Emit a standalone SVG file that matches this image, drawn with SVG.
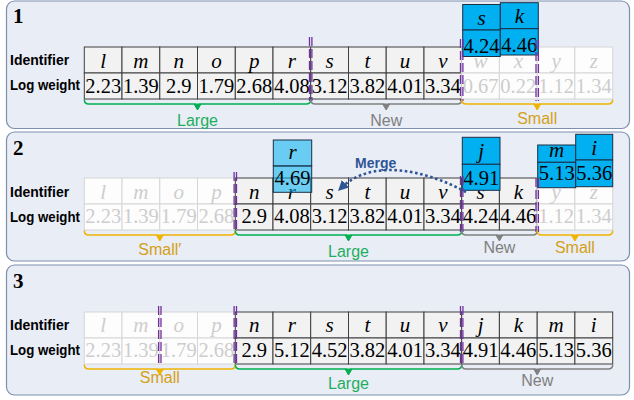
<svg xmlns="http://www.w3.org/2000/svg" width="634" height="400" viewBox="0 0 634 400">
<style>
.panel{fill:#e9edf6;stroke:#7f8fae;stroke-width:1.2}
.num{font-family:"Liberation Serif",serif;font-size:21px;font-weight:bold;fill:#000}
.rl{font-family:"Liberation Sans",sans-serif;font-size:14px;font-weight:bold;fill:#000}
.c{fill:#f2f2f2;stroke:#3f3f3f;stroke-width:1}
.f{fill:#fdfdfd;stroke:#d6d6d6;stroke-width:1}
.b{fill:#00b0f0;stroke:#1d2f45;stroke-width:1}
.lb{fill:#00b0f0;fill-opacity:.55;stroke:#1d2f45;stroke-width:1}
.id{font-family:"Liberation Serif",serif;font-style:italic;font-size:21px;text-anchor:middle;fill:#000}
.v{font-family:"Liberation Serif",serif;font-size:20.5px;text-anchor:middle;fill:#000}
.fd{fill:#cdcdcd}
.cut{stroke:#7030a0;stroke-width:1.3;stroke-dasharray:9 3;fill:none}
.brace{fill:none;stroke-width:1.5}
.lab{font-family:"Liberation Sans",sans-serif;font-size:16px;text-anchor:middle}
.green{stroke:#00b050;fill:#00b050}
.gray{stroke:#808080;fill:#808080}
.gold{stroke:#f0b400;fill:#f0b400}
.tgreen{fill:#1fae5e}
.tgray{fill:#7f7f7f}
.tgold{fill:#d4a017}
.merge{font-family:"Liberation Sans",sans-serif;font-size:14px;font-weight:bold;fill:#2f5597}
</style>
<defs>
<marker id="ah" viewBox="0 0 10 10" refX="6" refY="5" markerWidth="4" markerHeight="4" orient="auto">
<path d="M0,0 L10,5 L0,10 z" fill="#2f5597"/>
</marker>
</defs>

<!-- panel frames -->
<rect class="panel" x="6.5" y="1" width="623" height="127.5" rx="8"/>
<rect class="panel" x="6.5" y="132" width="623" height="129" rx="8"/>
<rect class="panel" x="6.5" y="265" width="623" height="130" rx="8"/>

<text class="num" x="13" y="23.3">1</text>
<text class="num" x="13" y="155">2</text>
<text class="num" x="13" y="288">3</text>

<text class="rl" x="10" y="65">Identifier</text>
<text class="rl" x="10" y="90" textLength="70" lengthAdjust="spacingAndGlyphs">Log weight</text>
<text class="rl" x="10" y="196.7">Identifier</text>
<text class="rl" x="10" y="221.7" textLength="70" lengthAdjust="spacingAndGlyphs">Log weight</text>
<text class="rl" x="10" y="330">Identifier</text>
<text class="rl" x="10" y="355" textLength="70" lengthAdjust="spacingAndGlyphs">Log weight</text>

<!-- step 1 table -->
<g id="step1">
<g id="p1-l" transform="translate(84.3,47)"><rect class="c" width="37.7" height="26"/><rect class="c" y="26" width="37.7" height="26"/><text class="id" x="18.9" y="20.5">l</text><text class="v" x="18.9" y="45.5">2.23</text></g>
<g id="p1-m" transform="translate(122,47)"><rect class="c" width="37.8" height="26"/><rect class="c" y="26" width="37.8" height="26"/><text class="id" x="18.9" y="20.5">m</text><text class="v" x="18.9" y="45.5">1.39</text></g>
<g id="p1-n" transform="translate(159.8,47)"><rect class="c" width="37.7" height="26"/><rect class="c" y="26" width="37.7" height="26"/><text class="id" x="18.9" y="20.5">n</text><text class="v" x="18.9" y="45.5">2.9</text></g>
<g id="p1-o" transform="translate(197.5,47)"><rect class="c" width="37.8" height="26"/><rect class="c" y="26" width="37.8" height="26"/><text class="id" x="18.9" y="20.5">o</text><text class="v" x="18.9" y="45.5">1.79</text></g>
<g id="p1-p" transform="translate(235.3,47)"><rect class="c" width="37.7" height="26"/><rect class="c" y="26" width="37.7" height="26"/><text class="id" x="18.9" y="20.5">p</text><text class="v" x="18.9" y="45.5">2.68</text></g>
<g id="p1-r" transform="translate(273,47)"><rect class="c" width="37.7" height="26"/><rect class="c" y="26" width="37.7" height="26"/><text class="id" x="18.9" y="20.5">r</text><text class="v" x="18.9" y="45.5">4.08</text></g>
<g id="p1-s" transform="translate(310.7,47)"><rect class="c" width="37.8" height="26"/><rect class="c" y="26" width="37.8" height="26"/><text class="id" x="18.9" y="20.5">s</text><text class="v" x="18.9" y="45.5">3.12</text></g>
<g id="p1-t" transform="translate(348.5,47)"><rect class="c" width="37.7" height="26"/><rect class="c" y="26" width="37.7" height="26"/><text class="id" x="18.9" y="20.5">t</text><text class="v" x="18.9" y="45.5">3.82</text></g>
<g id="p1-u" transform="translate(386.2,47)"><rect class="c" width="37.8" height="26"/><rect class="c" y="26" width="37.8" height="26"/><text class="id" x="18.9" y="20.5">u</text><text class="v" x="18.9" y="45.5">4.01</text></g>
<g id="p1-v" transform="translate(424,47)"><rect class="c" width="37.7" height="26"/><rect class="c" y="26" width="37.7" height="26"/><text class="id" x="18.9" y="20.5">v</text><text class="v" x="18.9" y="45.5">3.34</text></g>
<g id="p1-w" transform="translate(461.7,47)"><rect class="f" width="37.7" height="26"/><rect class="f" y="26" width="37.7" height="26"/><text class="id fd" x="18.9" y="20.5">w</text><text class="v fd" x="18.9" y="45.5">0.67</text></g>
<g id="p1-x" transform="translate(499.4,47)"><rect class="f" width="37.8" height="26"/><rect class="f" y="26" width="37.8" height="26"/><text class="id fd" x="18.9" y="20.5">x</text><text class="v fd" x="18.9" y="45.5">0.22</text></g>
<g id="p1-y" transform="translate(537.2,47)"><rect class="f" width="37.7" height="26"/><rect class="f" y="26" width="37.7" height="26"/><text class="id fd" x="18.9" y="20.5">y</text><text class="v fd" x="18.9" y="45.5">1.12</text></g>
<g id="p1-z" transform="translate(574.9,47)"><rect class="f" width="37.8" height="26"/><rect class="f" y="26" width="37.8" height="26"/><text class="id fd" x="18.9" y="20.5">z</text><text class="v fd" x="18.9" y="45.5">1.34</text></g>
<!-- incoming entries -->
<g id="p1-in-s" transform="translate(462.7,4.5)"><rect class="b" width="37.6" height="25.5"/><rect class="b" y="25.5" width="37.6" height="26.5"/><text class="id" x="18.8" y="20.5">s</text><text class="v" x="18.8" y="48.5">4.24</text></g>
<g id="p1-in-k" transform="translate(500.3,2.7)"><rect class="b" width="38" height="26"/><rect class="b" y="26" width="38" height="26.3"/><text class="id" x="19" y="20.3">k</text><text class="v" x="19" y="49">4.46</text></g>
</g>

<!-- step 2 table -->
<g id="step2">
<g id="p2-l" transform="translate(84.3,178)"><rect class="f" width="37.7" height="26"/><rect class="f" y="26" width="37.7" height="26"/><text class="id fd" x="18.9" y="20.5">l</text><text class="v fd" x="18.9" y="45">2.23</text></g>
<g id="p2-m" transform="translate(122,178)"><rect class="f" width="37.8" height="26"/><rect class="f" y="26" width="37.8" height="26"/><text class="id fd" x="18.9" y="20.5">m</text><text class="v fd" x="18.9" y="45">1.39</text></g>
<g id="p2-o" transform="translate(159.8,178)"><rect class="f" width="37.7" height="26"/><rect class="f" y="26" width="37.7" height="26"/><text class="id fd" x="18.9" y="20.5">o</text><text class="v fd" x="18.9" y="45">1.79</text></g>
<g id="p2-p" transform="translate(197.5,178)"><rect class="f" width="37.8" height="26"/><rect class="f" y="26" width="37.8" height="26"/><text class="id fd" x="18.9" y="20.5">p</text><text class="v fd" x="18.9" y="45">2.68</text></g>
<g id="p2-n" transform="translate(235.3,178)"><rect class="c" width="37.7" height="26"/><rect class="c" y="26" width="37.7" height="26"/><text class="id" x="18.9" y="20.5">n</text><text class="v" x="18.9" y="45">2.9</text></g>
<g id="p2-r" transform="translate(273,178)"><rect class="c" width="37.7" height="26"/><rect class="c" y="26" width="37.7" height="26"/><text class="id" x="18.9" y="20.5">r</text><text class="v" x="18.9" y="45">4.08</text></g>
<g id="p2-s" transform="translate(310.7,178)"><rect class="c" width="37.8" height="26"/><rect class="c" y="26" width="37.8" height="26"/><text class="id" x="18.9" y="20.5">s</text><text class="v" x="18.9" y="45">3.12</text></g>
<g id="p2-t" transform="translate(348.5,178)"><rect class="c" width="37.7" height="26"/><rect class="c" y="26" width="37.7" height="26"/><text class="id" x="18.9" y="20.5">t</text><text class="v" x="18.9" y="45">3.82</text></g>
<g id="p2-u" transform="translate(386.2,178)"><rect class="c" width="37.8" height="26"/><rect class="c" y="26" width="37.8" height="26"/><text class="id" x="18.9" y="20.5">u</text><text class="v" x="18.9" y="45">4.01</text></g>
<g id="p2-v" transform="translate(424,178)"><rect class="c" width="37.7" height="26"/><rect class="c" y="26" width="37.7" height="26"/><text class="id" x="18.9" y="20.5">v</text><text class="v" x="18.9" y="45">3.34</text></g>
<g id="p2-s2" transform="translate(461.7,178)"><rect class="c" width="37.7" height="26"/><rect class="c" y="26" width="37.7" height="26"/><text class="id" x="18.9" y="20.5">s</text><text class="v" x="18.9" y="45">4.24</text></g>
<g id="p2-k" transform="translate(499.4,178)"><rect class="c" width="37.8" height="26"/><rect class="c" y="26" width="37.8" height="26"/><text class="id" x="18.9" y="20.5">k</text><text class="v" x="18.9" y="45">4.46</text></g>
<g id="p2-y" transform="translate(537.2,178)"><rect class="f" width="37.7" height="26"/><rect class="f" y="26" width="37.7" height="26"/><text class="id fd" x="18.9" y="20.5">y</text><text class="v fd" x="18.9" y="45">1.12</text></g>
<g id="p2-z" transform="translate(574.9,178)"><rect class="f" width="37.8" height="26"/><rect class="f" y="26" width="37.8" height="26"/><text class="id fd" x="18.9" y="20.5">z</text><text class="v fd" x="18.9" y="45">1.34</text></g>
<!-- updated and incoming entries -->
<g id="p2-up-r" transform="translate(273.3,140)"><rect class="lb" width="38.4" height="26"/><rect class="lb" y="26" width="38.4" height="26.3"/><text class="id" x="19.2" y="19.3">r</text><text class="v" x="19.2" y="45">4.69</text></g>
<g id="p2-in-j" transform="translate(462.3,137.3)"><rect class="b" width="37.7" height="27"/><rect class="b" y="27" width="37.7" height="26"/><text class="id" x="18.9" y="20.5">j</text><text class="v" x="18.9" y="47.7">4.91</text></g>
<g id="p2-in-m" transform="translate(537.7,145)"><rect class="b" width="38" height="17.3"/><rect class="b" y="17.3" width="38" height="25.4"/><text class="id" x="19" y="12">m</text><text class="v" x="19" y="35">5.13</text></g>
<g id="p2-in-i" transform="translate(575.7,134.3)"><rect class="b" width="37" height="25.7"/><rect class="b" y="25.7" width="37" height="26.7"/><text class="id" x="18.5" y="20.7">i</text><text class="v" x="18.5" y="45.7">5.36</text></g>
</g>

<!-- step 3 table -->
<g id="step3">
<g id="p3-l" transform="translate(84.3,312)"><rect class="f" width="37.7" height="26"/><rect class="f" y="26" width="37.7" height="26"/><text class="id fd" x="18.9" y="20">l</text><text class="v fd" x="18.9" y="45">2.23</text></g>
<g id="p3-m" transform="translate(122,312)"><rect class="f" width="37.8" height="26"/><rect class="f" y="26" width="37.8" height="26"/><text class="id fd" x="18.9" y="20">m</text><text class="v fd" x="18.9" y="45">1.39</text></g>
<g id="p3-o" transform="translate(159.8,312)"><rect class="f" width="37.7" height="26"/><rect class="f" y="26" width="37.7" height="26"/><text class="id fd" x="18.9" y="20">o</text><text class="v fd" x="18.9" y="45">1.79</text></g>
<g id="p3-p" transform="translate(197.5,312)"><rect class="f" width="37.8" height="26"/><rect class="f" y="26" width="37.8" height="26"/><text class="id fd" x="18.9" y="20">p</text><text class="v fd" x="18.9" y="45">2.68</text></g>
<g id="p3-n" transform="translate(235.3,312)"><rect class="c" width="37.7" height="26"/><rect class="c" y="26" width="37.7" height="26"/><text class="id" x="18.9" y="20">n</text><text class="v" x="18.9" y="45">2.9</text></g>
<g id="p3-r" transform="translate(273,312)"><rect class="c" width="37.7" height="26"/><rect class="c" y="26" width="37.7" height="26"/><text class="id" x="18.9" y="20">r</text><text class="v" x="18.9" y="45">5.12</text></g>
<g id="p3-s" transform="translate(310.7,312)"><rect class="c" width="37.8" height="26"/><rect class="c" y="26" width="37.8" height="26"/><text class="id" x="18.9" y="20">s</text><text class="v" x="18.9" y="45">4.52</text></g>
<g id="p3-t" transform="translate(348.5,312)"><rect class="c" width="37.7" height="26"/><rect class="c" y="26" width="37.7" height="26"/><text class="id" x="18.9" y="20">t</text><text class="v" x="18.9" y="45">3.82</text></g>
<g id="p3-u" transform="translate(386.2,312)"><rect class="c" width="37.8" height="26"/><rect class="c" y="26" width="37.8" height="26"/><text class="id" x="18.9" y="20">u</text><text class="v" x="18.9" y="45">4.01</text></g>
<g id="p3-v" transform="translate(424,312)"><rect class="c" width="37.7" height="26"/><rect class="c" y="26" width="37.7" height="26"/><text class="id" x="18.9" y="20">v</text><text class="v" x="18.9" y="45">3.34</text></g>
<g id="p3-j" transform="translate(461.7,312)"><rect class="c" width="37.7" height="26"/><rect class="c" y="26" width="37.7" height="26"/><text class="id" x="18.9" y="20">j</text><text class="v" x="18.9" y="45">4.91</text></g>
<g id="p3-k" transform="translate(499.4,312)"><rect class="c" width="37.8" height="26"/><rect class="c" y="26" width="37.8" height="26"/><text class="id" x="18.9" y="20">k</text><text class="v" x="18.9" y="45">4.46</text></g>
<g id="p3-m2" transform="translate(537.2,312)"><rect class="c" width="37.7" height="26"/><rect class="c" y="26" width="37.7" height="26"/><text class="id" x="18.9" y="20">m</text><text class="v" x="18.9" y="45">5.13</text></g>
<g id="p3-i" transform="translate(574.9,312)"><rect class="c" width="37.8" height="26"/><rect class="c" y="26" width="37.8" height="26"/><text class="id" x="18.9" y="20">i</text><text class="v" x="18.9" y="45">5.36</text></g>
</g>

<!-- segment boundaries (double dashed) -->
<g id="cuts">
<path class="cut" d="M309.5,37V101M311.9,37V101M460.5,39V101M462.9,39V101M536,40V101M538.4,40V101"/>
<path class="cut" d="M234.1,172V232M236.5,172V232M460.5,176V232M462.9,176V232M536,178V232M538.4,178V232"/>
<path class="cut" d="M158.6,306V366M161,306V366M234.1,306V366M236.5,306V366M460.5,306V366M462.9,306V366"/>
</g>

<!-- segment braces and labels -->
<g id="braces">
<path class="brace green" d="M84.3,99.5Q84.3,104 88.8,104H193.5Q197.5,104 197.5,109Q197.5,104 201.5,104H306.2Q310.7,104 310.7,99.5" style="fill:none"/>
<path class="brace gray" d="M310.7,99.5Q310.7,104 315.2,104H382.2Q386.2,104 386.2,109Q386.2,104 390.2,104H457.2Q461.7,104 461.7,99.5" style="fill:none"/>
<path class="brace gold" d="M461.7,99.5Q461.7,104 466.2,104H533.2Q537.2,104 537.2,109Q537.2,104 541.2,104H608.2Q612.7,104 612.7,99.5" style="fill:none"/>
<path class="green" d="M194,104H201L197.5,110z"/>
<path class="gray" d="M382.7,104H389.7L386.2,110z"/>
<path class="gold" d="M533.7,104H540.7L537.2,110z"/>
<text class="lab tgreen" x="197.5" y="126">Large</text>
<text class="lab tgray" x="386.2" y="126">New</text>
<text class="lab tgold" x="537.2" y="124">Small</text>

<path class="brace gold" d="M84.3,230.5Q84.3,235 88.8,235H155.8Q159.8,235 159.8,240Q159.8,235 163.8,235H230.8Q235.3,235 235.3,230.5" style="fill:none"/>
<path class="brace green" d="M235.3,230.5Q235.3,235 239.8,235H344.5Q348.5,235 348.5,240Q348.5,235 352.5,235H457.2Q461.7,235 461.7,230.5" style="fill:none"/>
<path class="brace gray" d="M461.7,230.5Q461.7,235 466.2,235H495.4Q499.4,235 499.4,240Q499.4,235 503.4,235H532.7Q537.2,235 537.2,230.5" style="fill:none"/>
<path class="brace gold" d="M537.2,230.5Q537.2,235 541.7,235H570.9Q574.9,235 574.9,240Q574.9,235 578.9,235H608.2Q612.7,235 612.7,230.5" style="fill:none"/>
<path class="gold" d="M156.3,235H163.3L159.8,241z"/>
<path class="green" d="M345,235H352L348.5,241z"/>
<path class="gray" d="M495.9,235H502.9L499.4,241z"/>
<path class="gold" d="M571.4,235H578.4L574.9,241z"/>
<text class="lab tgold" x="159.8" y="255">Small′</text>
<text class="lab tgreen" x="348.5" y="256.5">Large</text>
<text class="lab tgray" x="499.4" y="253">New</text>
<text class="lab tgold" x="574.9" y="253">Small</text>

<path class="brace gold" d="M84.3,364.5Q84.3,369 88.8,369H155.8Q159.8,369 159.8,374Q159.8,369 163.8,369H230.8Q235.3,369 235.3,364.5" style="fill:none"/>
<path class="brace green" d="M235.3,364.5Q235.3,369 239.8,369H344.5Q348.5,369 348.5,374Q348.5,369 352.5,369H457.2Q461.7,369 461.7,364.5" style="fill:none"/>
<path class="brace gray" d="M461.7,364.5Q461.7,369 466.2,369H533.2Q537.2,369 537.2,374Q537.2,369 541.2,369H608.2Q612.7,369 612.7,364.5" style="fill:none"/>
<path class="gold" d="M156.3,369H163.3L159.8,375z"/>
<path class="green" d="M345,369H352L348.5,375z"/>
<path class="gray" d="M533.7,369H540.7L537.2,375z"/>
<text class="lab tgold" x="159.8" y="383">Small</text>
<text class="lab tgreen" x="348.5" y="389">Large</text>
<text class="lab tgray" x="537.2" y="386">New</text>
</g>

<!-- merge connector -->
<g id="connectors">
<path d="M466,192 C425,170 372,158 341,188" fill="none" stroke="#2f5597" stroke-width="2.6" stroke-dasharray="2.6 2.6" marker-end="url(#ah)"/>
<text class="merge" x="355" y="168">Merge</text>
</g>
</svg>
